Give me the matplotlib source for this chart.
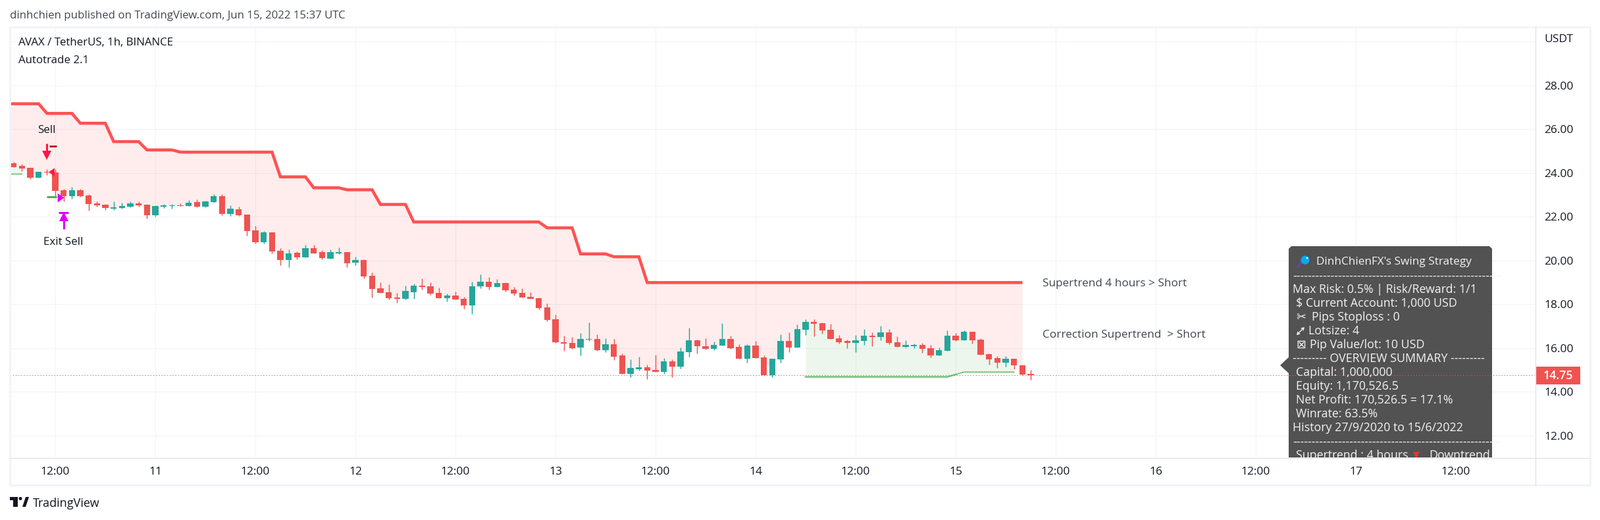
import numpy as np
import matplotlib
matplotlib.use("Agg")
import matplotlib.pyplot as plt
from matplotlib.patches import Polygon, Rectangle, Circle
from matplotlib.lines import Line2D
from matplotlib.transforms import Affine2D

# ---- data (prices; bars are hours counted from Jun 10 12:00) ----
bar_start = -5
opens = [24.43,24.32,24.23,23.79,24.04,24.02,23.21,22.94,23.21,22.97,22.61,22.55,22.37,22.40,22.46,22.61,22.55,22.07,22.46,22.50,22.52,22.49,
         22.67,22.46,22.67,22.94,22.13,22.34,22.10,21.37,20.83,21.28,20.44,20.02,20.35,20.14,20.56,20.38,20.08,20.32,20.38,19.90,20.02,19.30,18.73,18.55,18.31,18.25,18.55,18.85,18.82,18.52,18.28,18.40,
         18.25,17.95,18.82,19.03,18.79,18.97,18.67,18.52,18.34,18.28,17.86,17.31,16.26,16.23,16.02,16.38,16.41,15.90,16.17,15.66,14.82,15.03,15.12,15.00,14.91,15.39,15.15,15.81,16.35,16.08,15.96,16.11,
         16.41,16.05,15.51,16.11,15.57,14.76,15.48,16.32,16.02,16.83,17.19,17.13,16.83,16.44,16.32,16.23,16.32,16.56,16.50,16.71,16.26,16.05,16.08,16.14,15.99,15.66,15.87,16.56,16.35,16.74,16.38,
         15.72,15.54,15.33,15.51,15.21,14.82]
highs = [24.50,24.40,24.26,24.05,24.18,24.16,23.27,23.36,23.27,23.03,22.70,22.58,22.70,22.64,22.70,22.70,22.58,22.52,22.58,22.58,22.61,22.76,
         22.79,22.73,23.03,23.03,22.52,22.46,22.10,21.58,21.34,21.28,20.56,20.50,20.41,20.71,20.71,20.47,20.50,20.59,20.38,20.17,20.05,19.45,19.00,18.91,18.52,18.85,18.94,19.18,19.00,18.76,18.49,18.58,
         18.34,19.03,19.36,19.24,19.15,19.00,18.79,18.73,18.55,18.31,18.04,17.52,16.56,16.50,16.68,17.16,16.62,16.44,16.41,15.75,15.48,15.60,15.24,15.69,15.54,15.48,16.02,16.92,16.38,16.44,16.29,17.13,
         16.56,16.17,16.17,16.32,15.66,15.51,16.62,16.71,17.07,17.31,17.31,17.16,17.10,16.59,16.38,16.59,16.86,16.71,17.01,16.86,16.53,16.35,16.20,16.23,16.14,16.02,16.80,16.68,16.80,16.74,16.44,
         15.75,15.63,15.63,15.51,15.24,15.00]
lows = [24.27,24.08,23.73,23.79,23.91,22.93,22.70,22.82,22.91,22.28,22.46,22.31,22.31,22.37,22.43,22.46,21.92,22.01,22.40,22.37,22.49,22.49,
        22.43,22.43,22.64,22.07,22.04,22.04,21.13,20.77,20.77,20.32,19.78,19.69,20.05,20.14,20.32,20.05,20.08,20.29,19.69,19.78,19.18,18.31,18.52,18.22,18.07,18.22,18.25,18.67,18.43,18.28,18.13,18.22,
        17.80,17.55,18.73,18.67,18.79,18.58,18.40,18.31,18.25,17.77,17.22,16.23,15.87,15.96,15.66,16.32,15.87,15.81,15.45,14.82,14.67,14.97,14.58,14.91,14.82,14.67,15.06,15.60,15.75,15.93,15.90,16.11,
        15.96,15.51,15.33,15.54,14.76,14.67,15.33,15.81,16.02,16.59,16.53,16.65,16.41,16.20,15.99,15.81,16.14,16.08,16.35,16.17,16.05,16.02,15.99,15.78,15.57,15.66,15.87,16.32,16.35,16.20,15.69,
        15.24,15.09,15.15,15.03,14.76,14.55]
closes = [24.27,24.20,23.79,24.05,24.02,23.18,22.94,23.21,22.94,22.58,22.52,22.40,22.43,22.49,22.61,22.52,22.07,22.49,22.52,22.53,22.49,22.64,
          22.46,22.70,22.94,22.13,22.37,22.07,21.34,20.83,21.28,20.41,20.02,20.32,20.14,20.56,20.32,20.11,20.38,20.38,19.87,20.02,19.27,18.70,18.52,18.28,18.25,18.61,18.85,18.79,18.49,18.28,18.40,18.22,
          17.95,18.82,19.03,18.79,18.97,18.64,18.49,18.31,18.25,17.83,17.28,16.26,16.20,15.99,16.41,16.41,15.90,16.17,15.60,14.82,15.09,15.12,14.97,14.91,15.39,15.15,15.84,16.35,16.08,15.96,16.14,16.41,
          15.99,15.51,16.11,15.54,14.76,15.51,16.32,16.02,16.86,17.19,17.10,16.80,16.41,16.26,16.23,16.35,16.56,16.50,16.71,16.23,16.05,16.14,16.14,15.96,15.66,15.90,16.56,16.35,16.74,16.35,15.69,
          15.48,15.33,15.51,15.21,14.79,14.75]

# 4-hour supertrend per bar, from hour -6 to hour 116
trend_start = -6
trend_levels = [27.16,26.72,26.27,25.43,25.05,24.95,23.82,23.32,23.23,22.56,21.76,21.49,20.30,20.17,18.99]
trend_runs = [5,4,4,4,4,12,4,4,4,4,16,4,4,4,46]
mid_before_first = 24.40

early_green_bars = [-6, -5, -4]
early_green = [23.96, 23.96, 23.96]
late_green_bars = list(range(90, 116))
late_green = [14.68]*18 + [14.79] + [14.90]*7

last_price = 14.75
time_ticks = list(range(0, 180, 12))
time_labels = ["12:00","11","12:00","12","12:00","13","12:00","14","12:00","15","12:00","16","12:00","17","12:00"]
price_ticks = [12,14,16,18,20,22,24,26,28,30]
price_labels = ["12.00","14.00","16.00","18.00","20.00","22.00","24.00","26.00","28.00",""]

DASHES = "-" * 55
panel_lines = [
    (DASHES, 1964, 419.5),
    ("Max Risk: 0.5% | Risk/Reward: 1/1", 1964, 440),
    ("$", 1969, 461), ("Current Account: 1,000 USD", 1984, 461),
    ("\u2702", 1969, 482), ("Pips Stoploss : 0", 1993, 482),
    ("Lotsize: 4", 1988.5, 503),
    ("\u22a0", 1969, 524), ("Pip Value/lot: 10 USD", 1990.5, 524),
    ("--------- OVERVIEW SUMMARY ---------", 1964, 545),
    ("Capital: 1,000,000", 1969, 566),
    ("Equity: 1,170,526.5", 1969, 587),
    ("Net Profit: 170,526.5 = 17.1%", 1969, 608),
    ("Winrate: 63.5%", 1969, 629),
    ("History 27/9/2020 to 15/6/2022", 1964, 650),
    (DASHES, 1964, 671.5),
    ("Supertrend : 4 hours", 1969, 692),
    ("Downtrend", 2171, 692),
]

# ---- style ----
plt.rcParams["font.family"] = ["Open Sans", "DejaVu Sans"]
W, H = 2431, 790
UP, DOWN = "#26a69a", "#ef5350"
TXT = "#131722"
FRAME = "#f0f3fa"
fig = plt.figure(figsize=(W/100, H/100), dpi=100, facecolor="white")
px = Affine2D().scale(1, -1).translate(0, H)   # pixel position, top-left origin

L, R, T, B = 15, 2332, 41, 695
ax = fig.add_axes([L/W, 1-B/H, (R-L)/W, (B-T)/H])
ax.set_xlim((L-84)/12.667, (R-84)/12.667)
ax.set_ylim(20+(395.7-B)/33.25, 20+(395.7-T)/33.25)
for s in ax.spines.values():
    s.set_visible(False)
ax.set_axisbelow(True)
ax.grid(True, color="#f0f3fa", lw=0.75)
ax.set_xticks(time_ticks, time_labels, fontsize=12.5, color=TXT)
ax.yaxis.tick_right()
ax.set_yticks(price_ticks, price_labels, fontsize=12.5, color=TXT)
ax.tick_params(axis="both", length=0)
ax.tick_params(axis="x", pad=10)
ax.tick_params(axis="y", pad=10)

opens_a, highs_a, lows_a, closes_a = map(np.array, (opens, highs, lows, closes))
bars = bar_start + np.arange(len(opens_a))
mid = (opens_a + closes_a) / 2
trend = np.repeat(trend_levels, trend_runs)
trend_x = trend_start + np.arange(len(trend))

# fills
base = np.concatenate([[mid_before_first], mid[:len(trend)-1]])
ax.fill_between(trend_x, trend, base, color="#ff5252", alpha=0.1, lw=0, zorder=1)
early_mid = np.concatenate([[mid_before_first], mid[:2]])
ax.fill_between(early_green_bars, early_green, early_mid, color="#4caf50", alpha=0.1, lw=0, zorder=1)
late_mid = mid[np.array(late_green_bars) - bar_start]
ax.fill_between(late_green_bars, late_green, late_mid, color="#4caf50", alpha=0.1, lw=0, zorder=1)

# lines
ax.plot(trend_x, trend, color="#ff5252", lw=3.3, zorder=2, solid_joinstyle="miter", solid_capstyle="butt")
ax.plot(early_green_bars, early_green, color="#4caf50", lw=1.0, alpha=0.9, zorder=2)
ax.plot(late_green_bars[:19], late_green[:19], color="#4caf50", lw=1.8, alpha=0.75, zorder=2)
ax.plot(late_green_bars[18:], late_green[18:], color="#4caf50", lw=1.0, alpha=0.95, zorder=2)
ax.axhline(last_price, color=DOWN, lw=0.7, ls=(0, (1.4, 2.9)), zorder=2.5)

# candles
colors = [UP if c >= o else DOWN for o, c in zip(opens_a, closes_a)]
ax.vlines(bars, lows_a, highs_a, colors=colors, lw=1.05, zorder=3)
ax.bar(bars, np.abs(closes_a-opens_a), bottom=np.minimum(opens_a, closes_a), width=0.72, color=colors, lw=0, zorder=3.1)

# signals
SELL, EXIT = "#ff1744", "#e000fa"
sell_x, sell_stem, sell_head = -1, [25.33, 24.88], 24.79
exit_x, exit_stem, exit_head, exit_bar = 1, [21.43, 21.95], 22.0, 22.2
ax.plot([sell_x]*2, sell_stem, color=SELL, lw=2.2, zorder=4, solid_capstyle="butt")
ax.plot([sell_x], [sell_head], marker="v", ms=10.5, color=SELL, mew=0, zorder=4)
ax.plot([exit_x]*2, exit_stem, color=EXIT, lw=2.2, zorder=4, solid_capstyle="butt")
ax.plot([exit_x], [exit_head], marker="^", ms=10.5, color=EXIT, mew=0, zorder=4)
ax.hlines([exit_bar], exit_x-0.6, exit_x+0.6, color=EXIT, lw=2.2, zorder=4)
ax.hlines([25.22], -0.7, 0.15, color="#c2202c", lw=2.2, zorder=4)
ax.hlines([22.90], -1.05, 0.15, color="#4caf50", lw=2.2, zorder=4)
ax.plot([-0.5], [24.05], marker=[(0.7,1),(-0.7,0),(0.7,-1)], ms=9, color=SELL, mew=0, zorder=4)
ax.plot([0.63], [22.87], marker=[(-0.7,1),(0.7,0),(-0.7,-1)], ms=10, color=EXIT, mew=0, zorder=4)

ax.text(-1, 25.95, "Sell", ha="center", va="center", fontsize=12.2, color=TXT, zorder=5)
ax.text(1, 20.83, "Exit Sell", ha="center", va="center", fontsize=12.2, color=TXT, zorder=5)
ax.text(118.4, 18.95, "Supertrend 4 hours > Short", ha="left", va="center", fontsize=12.3, color="#434651", zorder=5)
ax.text(118.4, 16.59, "Correction Supertrend  > Short", ha="left", va="center", fontsize=12.4, color="#434651", zorder=5)

# summary panel, in page pixels and clipped by the plot area
PANEL = "#525252"
ax.add_patch(Polygon([(1962,374),(2263,374),(2267,378),(2267,700),(1958,700),(1958,567),(1945,555),(1958,542.7),(1958,378)],
                     closed=True, transform=px, fc=PANEL, ec="none", zorder=2.2))
PTXT = "#f2f2f2"
ax.text(2000, 398, "DinhChienFX's Swing Strategy", transform=px, ha="left", va="center", fontsize=12.3, color=PTXT, zorder=2.6, clip_on=True)
for s, x, y in panel_lines:
    ax.text(x, y, s, transform=px, ha="left", va="center", fontsize=12.8, color=PTXT, zorder=2.6, clip_on=True)
ax.annotate("", xy=(1982, 497), xytext=(1970, 509), xycoords=px, textcoords=px, zorder=2.6,
            arrowprops=dict(arrowstyle="<->,head_length=0.25,head_width=0.15", color=PTXT, lw=1, shrinkA=0, shrinkB=0))
ax.text(2152, 691, "\u25bc", transform=px, ha="center", va="center", fontsize=9, color="#f23030", zorder=2.6, clip_on=True)
ax.add_line(Line2D([1977, 1972], [399, 405], transform=px, color="#5c4a9e", lw=3, zorder=2.6, solid_capstyle="round"))
ax.add_patch(Circle((1983, 395), 6.5, transform=px, fc="#03a9f4", ec="none", zorder=2.7))
ax.add_patch(Circle((1986, 392), 1.4, transform=px, fc="white", ec="none", zorder=2.8))

# overlay for page furniture
ov = fig.add_axes([0, 0, 1, 1], facecolor="none")
ov.set_xlim(0, W); ov.set_ylim(H, 0); ov.axis("off")
ov.add_patch(Rectangle((15, 41), 2401, 696, fc="none", ec=FRAME, lw=2))
ov.plot([15, 2416], [695.5, 695.5], color="#e0e3eb", lw=1)
ov.plot([2332.5, 2332.5], [41, 737], color="#e0e3eb", lw=1)
ov.text(15, 24, "dinhchien published on TradingView.com, Jun 15, 2022 15:37 UTC", ha="left", va="center", fontsize=12.1, color="#434651")
ov.text(27.5, 65, "AVAX / TetherUS, 1h, BINANCE", ha="left", va="center", fontsize=12.2, color=TXT)
ov.text(27.5, 91.5, "Autotrade 2.1", ha="left", va="center", fontsize=12.2, color=TXT)
ov.text(2368, 60.5, "USDT", ha="center", va="center", fontsize=12.5, color=TXT)
ov.add_patch(Rectangle((2332.5, 557), 68, 27, fc=DOWN, ec="none"))
ov.text(2367, 571, f"{last_price:.2f}", ha="center", va="center", fontsize=12.8, color="white", fontweight="semibold")
# logo and wordmark
ov.add_patch(Polygon([(15,755),(27,755),(27,770),(20,770),(20,760),(15,760)], fc=TXT, ec="none"))
ov.add_patch(Circle((31, 757.5), 2.5, fc=TXT, ec="none"))
ov.add_patch(Polygon([(34,770),(39,755),(44,755),(39,770)], fc=TXT, ec="none"))
ov.text(50, 765, "TradingView", ha="left", va="center", fontsize=13, color=TXT)

fig.savefig("out.png", dpi=100, facecolor="white")
